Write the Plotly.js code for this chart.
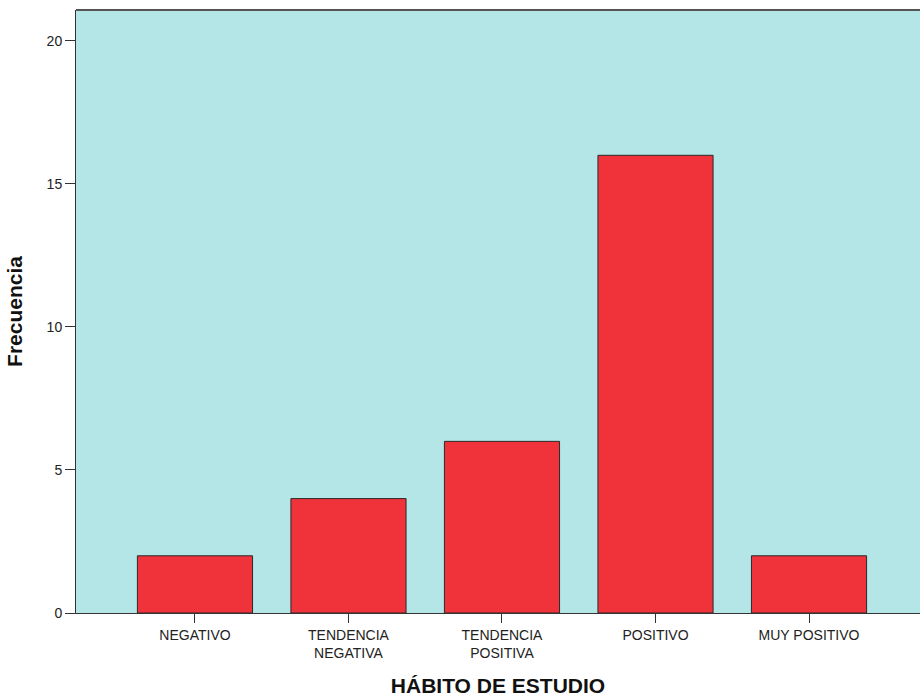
<!DOCTYPE html>
<html>
<head>
<meta charset="utf-8">
<script src="https://cdn.plot.ly/plotly-3.0.1.min.js"></script>
<style>html,body{margin:0;padding:0;background:#fff;}</style>
</head>
<body>
<div id="chart" style="width:920px;height:697px;"></div>
<script>
const categories = ["NEGATIVO", "TENDENCIA<br>NEGATIVA", "TENDENCIA<br>POSITIVA", "POSITIVO", "MUY POSITIVO"];
const frecuencia = [2, 4, 6, 16, 2];
const yTicks = [0, 5, 10, 15, 20];

const trace = {
  type: "bar",
  x: categories.map((c, i) => i),
  y: frecuencia,
  width: 0.75,
  marker: {color: "#F0323A", line: {color: "#2a2a2a", width: 1}},
  hoverinfo: "x+y"
};

const layout = {
  width: 920, height: 697,
  margin: {l: 76, r: 0, t: 10, b: 84},
  paper_bgcolor: "#ffffff",
  plot_bgcolor: "#B4E5E7",
  showlegend: false,
  font: {family: "Liberation Sans, Arial, sans-serif", color: "#222", size: 14},
  xaxis: {
    range: [-0.775, 4.723],
    tickmode: "array",
    tickvals: categories.map((c, i) => i),
    ticktext: categories,
    ticks: "outside", ticklen: 9, tickcolor: "#333", tickwidth: 1,
    showline: true, linecolor: "#333", linewidth: 1,
    showgrid: false, zeroline: false,
    tickfont: {size: 14, color: "#222"},
    title: {text: "HÁBITO DE ESTUDIO", font: {size: 21, color: "#111", family: "Liberation Sans, Arial, sans-serif", weight: "bold"}, standoff: 18}
  },
  yaxis: {
    range: [0, 21.08],
    tickmode: "array",
    tickvals: yTicks,
    ticktext: yTicks.map(String),
    ticks: "outside", ticklen: 10, tickcolor: "#333", tickwidth: 1,
    showline: true, linecolor: "#333", linewidth: 1,
    showgrid: false, zeroline: false,
    tickfont: {size: 14, color: "#222"},
    title: {text: "Frecuencia", font: {size: 21, color: "#111", family: "Liberation Sans, Arial, sans-serif", weight: "bold"}, standoff: 18}
  },
  shapes: [{
    type: "line", xref: "paper", yref: "paper", x0: 0, x1: 1, y0: 1, y1: 1,
    line: {color: "#555", width: 2}
  }]
};

Plotly.newPlot("chart", [trace], layout, {displayModeBar: false, staticPlot: true});
</script>
</body>
</html>
